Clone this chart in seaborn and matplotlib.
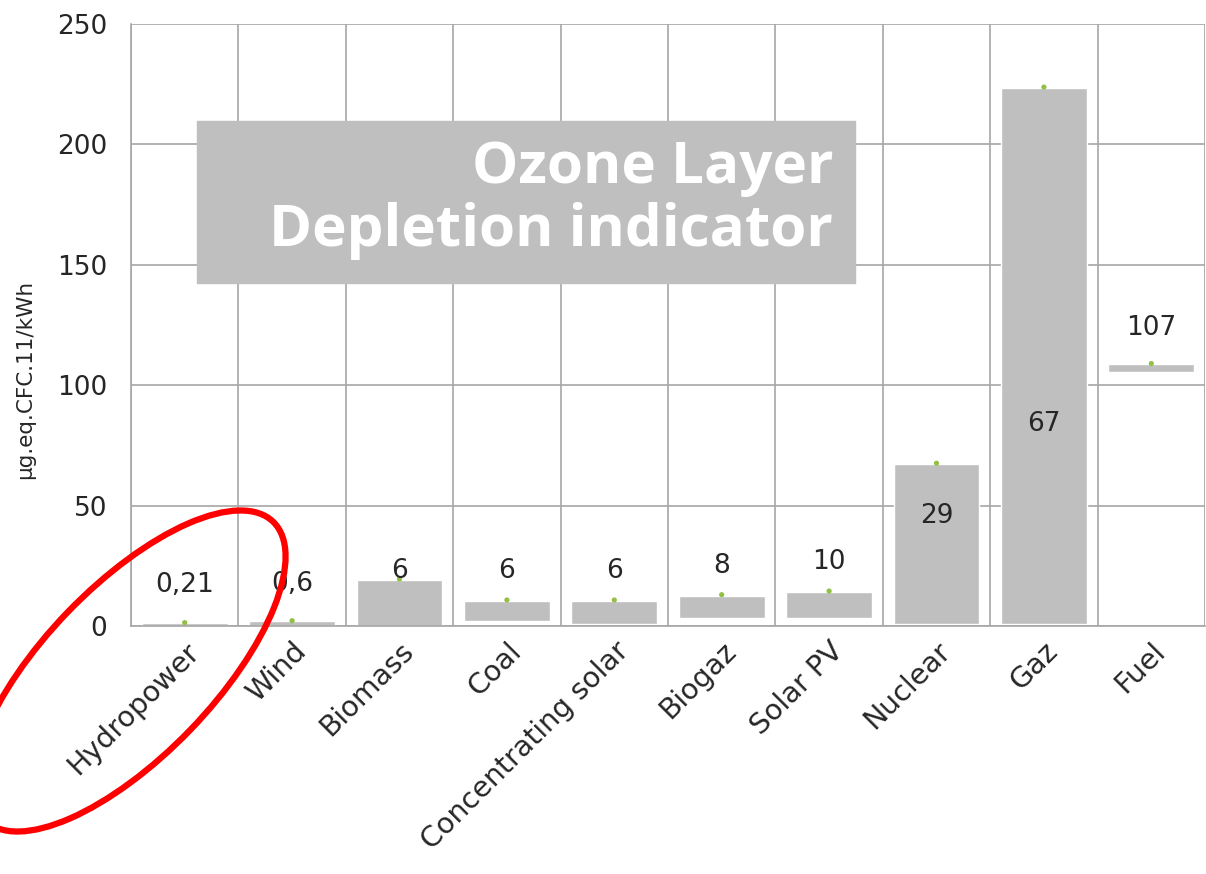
import matplotlib
matplotlib.use("Agg", force=True)
import matplotlib.pyplot as plt
import numpy as np
import pandas as pd
import seaborn as sns
from matplotlib.patches import Ellipse, Rectangle

# ozone layer depletion per source (µg eq. CFC-11 / kWh)
SOURCES = ["Hydropower", "Wind", "Biomass", "Coal", "Concentrating solar",
           "Biogaz", "Solar PV", "Nuclear", "Gaz", "Fuel"]
RANGE_MIN = [0, 0, 0, 2, 1, 3.2, 3.2, 1, 1, 105.4]
RANGE_MAX = [1.2, 2, 19, 10.4, 10.4, 12.6, 14.1, 67.3, 223.5, 108.8]
TOP_POINT = [1.4, 2.2, 19.5, 10.8, 10.8, 13, 14.5, 67.6, 223.8, 109]
MEDIAN = [0.21, 0.6, 6, 6, 6, 8, 10, 29, 67, 107]
MEDIAN_LABELS = ["0,21", "0,6", "6", "6", "6", "8", "10", "29", "67", "107"]

GRID = "#a6a6a6"
TEXT = "#262626"


def main() -> None:
    sns.set_style("white")
    plt.rcParams["font.family"] = ["DejaVu Sans"]

    df = pd.DataFrame({"source": SOURCES, "lo": RANGE_MIN, "hi": RANGE_MAX, "top": TOP_POINT})
    df["span"] = df["hi"] - df["lo"]

    fig = plt.figure(figsize=(12.06, 8.74), dpi=100)
    ax = fig.add_axes([131 / 1206, 248 / 874, 1074 / 1206, 602 / 874])

    sns.barplot(data=df, x="source", y="span", color="#bfbfbf", saturation=1,
                width=0.8, ax=ax, zorder=2)
    for patch, lo in zip(ax.patches, RANGE_MIN):
        patch.set_y(lo)
    sns.scatterplot(data=df, x="source", y="top", color="#92c045", s=14,
                    edgecolor="none", ax=ax, zorder=3)

    for i, (m, lab) in enumerate(zip(MEDIAN, MEDIAN_LABELS)):
        ax.annotate(lab, (i, m), xytext=(0, 29), textcoords="offset points",
                    ha="center", va="center", fontsize=19, color=TEXT, zorder=4)

    ax.set_xlim(-0.5, len(SOURCES) - 0.5)
    ax.set_ylim(0, 250)
    ax.set_yticks(np.arange(0, 251, 50))
    ax.set_xticks(np.arange(-0.5, len(SOURCES), 1.0), minor=True)
    ax.grid(True, axis="y", color=GRID, lw=1.2, zorder=0)
    ax.grid(True, axis="x", which="minor", color=GRID, lw=1.2, zorder=0)
    ax.grid(False, axis="x", which="major")
    ax.set_axisbelow(True)

    ax.tick_params(axis="x", which="major", length=0, pad=8)
    ax.tick_params(axis="x", which="minor", length=8, color=GRID, width=1.2)
    ax.tick_params(axis="y", length=7, color=GRID, width=1.2, pad=10)
    ax.set_xticklabels(SOURCES, rotation=45, ha="right", rotation_mode="anchor",
                       fontsize=20.5, color=TEXT)
    for t in ax.get_yticklabels():
        t.set_fontsize(19)
        t.set_color(TEXT)

    ax.set_xlabel("")
    ax.set_ylabel("µg.eq.CFC.11/kWh", fontsize=15.5, color=TEXT)
    ax.yaxis.set_label_coords(-0.089, 0.41)
    for side in ["top", "right"]:
        ax.spines[side].set_visible(False)
    for side in ["left", "bottom"]:
        ax.spines[side].set_color(GRID)
        ax.spines[side].set_linewidth(1.2)

    # title box
    fig.add_artist(Rectangle((197 / 1206, 591 / 874), 658 / 1206, 162 / 874,
                             transform=fig.transFigure, color="#bfbfbf", zorder=5))
    fig.text(833 / 1206, 691 / 874, "Ozone Layer", ha="right", va="baseline",
             fontsize=42, fontweight="bold", family="Open Sans", color="white", zorder=6)
    fig.text(833 / 1206, 628 / 874, "Depletion indicator", ha="right", va="baseline",
             fontsize=42, fontweight="bold", family="Open Sans", color="white", zorder=6)

    # red highlight round hydropower
    fig.add_artist(Ellipse((1.29, 2.03), 4.15, 1.7, angle=46, transform=fig.dpi_scale_trans,
                           fill=False, ec="#ff0000", lw=4.5, zorder=7))

    fig.savefig("out.png", dpi=100)
    plt.close(fig)


if __name__ == "__main__":
    main()
